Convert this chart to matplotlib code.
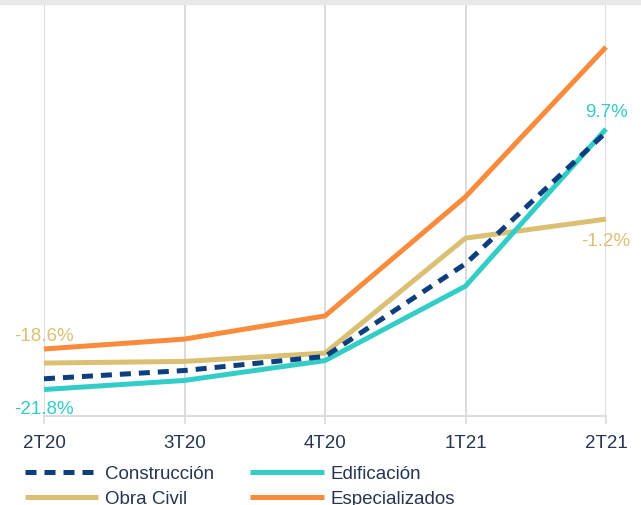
import matplotlib
matplotlib.use("Agg")
import matplotlib.pyplot as plt
from matplotlib.patches import Rectangle

# Quarterly year-on-year change (%) by segment
quarters = ["2T20", "3T20", "4T20", "1T21", "2T21"]
construccion = [-20.5, -19.5, -17.8, -6.6, 9.3]
edificacion = [-21.8, -20.7, -18.3, -9.3, 9.7]
obra_civil = [-18.6, -18.4, -17.4, -3.5, -1.2]
especializados = [-16.9, -15.7, -12.9, 1.5, 19.6]

TEXT = "#263552"
GRID = "#d9d9d9"
NAVY = "#0d3f7e"
TEAL = "#33cdc8"
GOLD = "#dbc074"
ORANGE = "#f98b3d"

plt.rcParams["font.family"] = ["Liberation Sans", "DejaVu Sans"]
FS = 13.5
plt.rcParams["font.size"] = FS

fig = plt.figure(figsize=(6.41, 5.06), dpi=100)
W, H = 641, 506
ax = fig.add_axes([44 / W, 1 - 417 / H, (606 - 44) / W, (417 - 3.4) / H])

x = list(range(len(quarters)))
lw = 3.6
ax.plot(x, especializados, color=ORANGE, lw=lw, solid_capstyle="butt",
        label="Especializados", clip_on=False, zorder=3)
ax.plot(x, obra_civil, color=GOLD, lw=lw, solid_capstyle="butt",
        label="Obra Civil", clip_on=False, zorder=3)
ax.plot(x, edificacion, color=TEAL, lw=lw, solid_capstyle="butt",
        label="Edificación", clip_on=False, zorder=4)
ax.plot(x, construccion, color=NAVY, lw=lw, ls=(0, (2.2, 1.6)),
        dash_capstyle="butt", label="Construcción", clip_on=False, zorder=5)

ax.set_xlim(0, len(quarters) - 1)
ax.set_ylim(-25, 25)
ax.set_xticks(x)
ax.set_xticklabels(quarters, color=TEXT)
ax.set_yticks([])
ax.tick_params(axis="x", length=6, width=1.2, color=GRID, pad=7)
ax.grid(axis="x", color=GRID, lw=1.3)
ax.set_axisbelow(True)
for side in ["top", "left", "right"]:
    ax.spines[side].set_visible(False)
ax.spines["bottom"].set_color(GRID)
ax.spines["bottom"].set_linewidth(1.3)

# end-point value labels
def label(i, series, color, dy):
    ax.annotate(f"{series[i]:.1f}%", (x[i], series[i]), xytext=(0, dy),
                textcoords="offset pixels", ha="center", va="center",
                color=color, fontsize=FS, annotation_clip=False, zorder=6)

label(0, obra_civil, GOLD, 28)
label(0, edificacion, TEAL, -19)
label(-1, edificacion, TEAL, 17)
label(-1, obra_civil, GOLD, -21)

handles, labels = ax.get_legend_handles_labels()
order = ["Construcción", "Obra Civil", "Edificación", "Especializados"]
hmap = dict(zip(labels, handles))
fig.legend([hmap[k] for k in order], order, ncol=2, frameon=False,
           loc="upper left", bbox_to_anchor=(25 / W, 1 - 466 / H),
           borderpad=0, borderaxespad=0, handlelength=3.9, handletextpad=0.35,
           columnspacing=1.95, labelspacing=0.42, labelcolor=TEXT)

# thin grey strip along the top edge
fig.patches.append(Rectangle((0, 1 - 5 / H), 1, 5 / H, transform=fig.transFigure,
                             color="#e8e8e8", zorder=10))

fig.savefig("out.png", dpi=100)
